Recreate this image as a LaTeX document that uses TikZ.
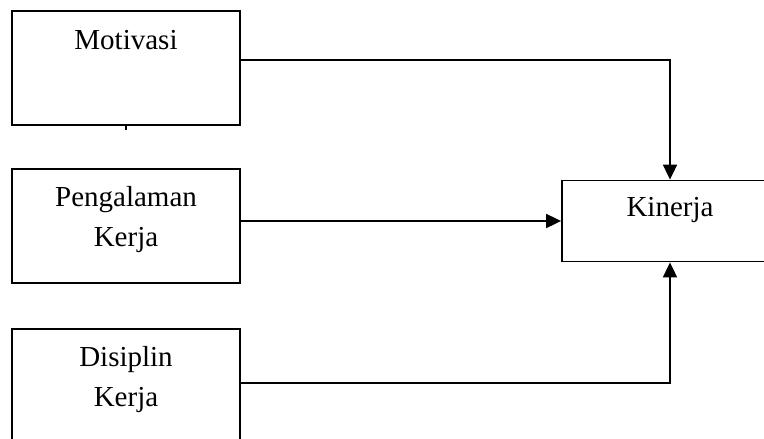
\documentclass[tikz,border=0pt]{standalone}
\usepackage{fontspec}
\setmainfont{Liberation Serif}
\usetikzlibrary{arrows.meta}
\begin{document}
\begin{tikzpicture}[x=1pt,y=-1pt,
  box/.style={draw,line width=1.8pt,minimum width=228,minimum height=114,inner sep=0pt},
  lbl/.style={anchor=base,inner sep=0pt,font=\fontsize{29}{40}\selectfont},
  conn/.style={line width=1.8pt,-{Triangle[length=15pt,width=14pt]}}]
\useasboundingbox (0,0) rectangle (764,439);
\fill[white] (0,0) rectangle (764,439);
\clip (0,0) rectangle (764,439);
% boxes
\node[box] (mot) at (126,68) {};
\node[box] (peng) at (126,226) {};
\node[box,minimum height=151] (dis) at (126,404.5) {};
\node[box,minimum width=216,minimum height=81] (kin) at (670,221) {};
% labels
\node[lbl] (tmot) at (126,49) {Motivasi};
\node[lbl] (tpeng1) at (126,206.7) {Pengalaman};
\node[lbl] (tpeng2) at (126,246.7) {Kerja};
\node[lbl] (tdis1) at (126,366.7) {Disiplin};
\node[lbl] (tdis2) at (126,406.7) {Kerja};
\node[lbl] (tkin) at (670,216.7) {Kinerja};
% small tick
\draw[line width=1.8pt] (mot.south) -- ++(0,4);
% connectors
\draw[conn] (mot.north east) ++(0,49.5) -| (kin.north);
\draw[conn] (peng.east |- kin.west) -- (kin.west);
\draw[conn] (dis.north east) ++(0,54.5) -| (kin.south);
\end{tikzpicture}
\end{document}
